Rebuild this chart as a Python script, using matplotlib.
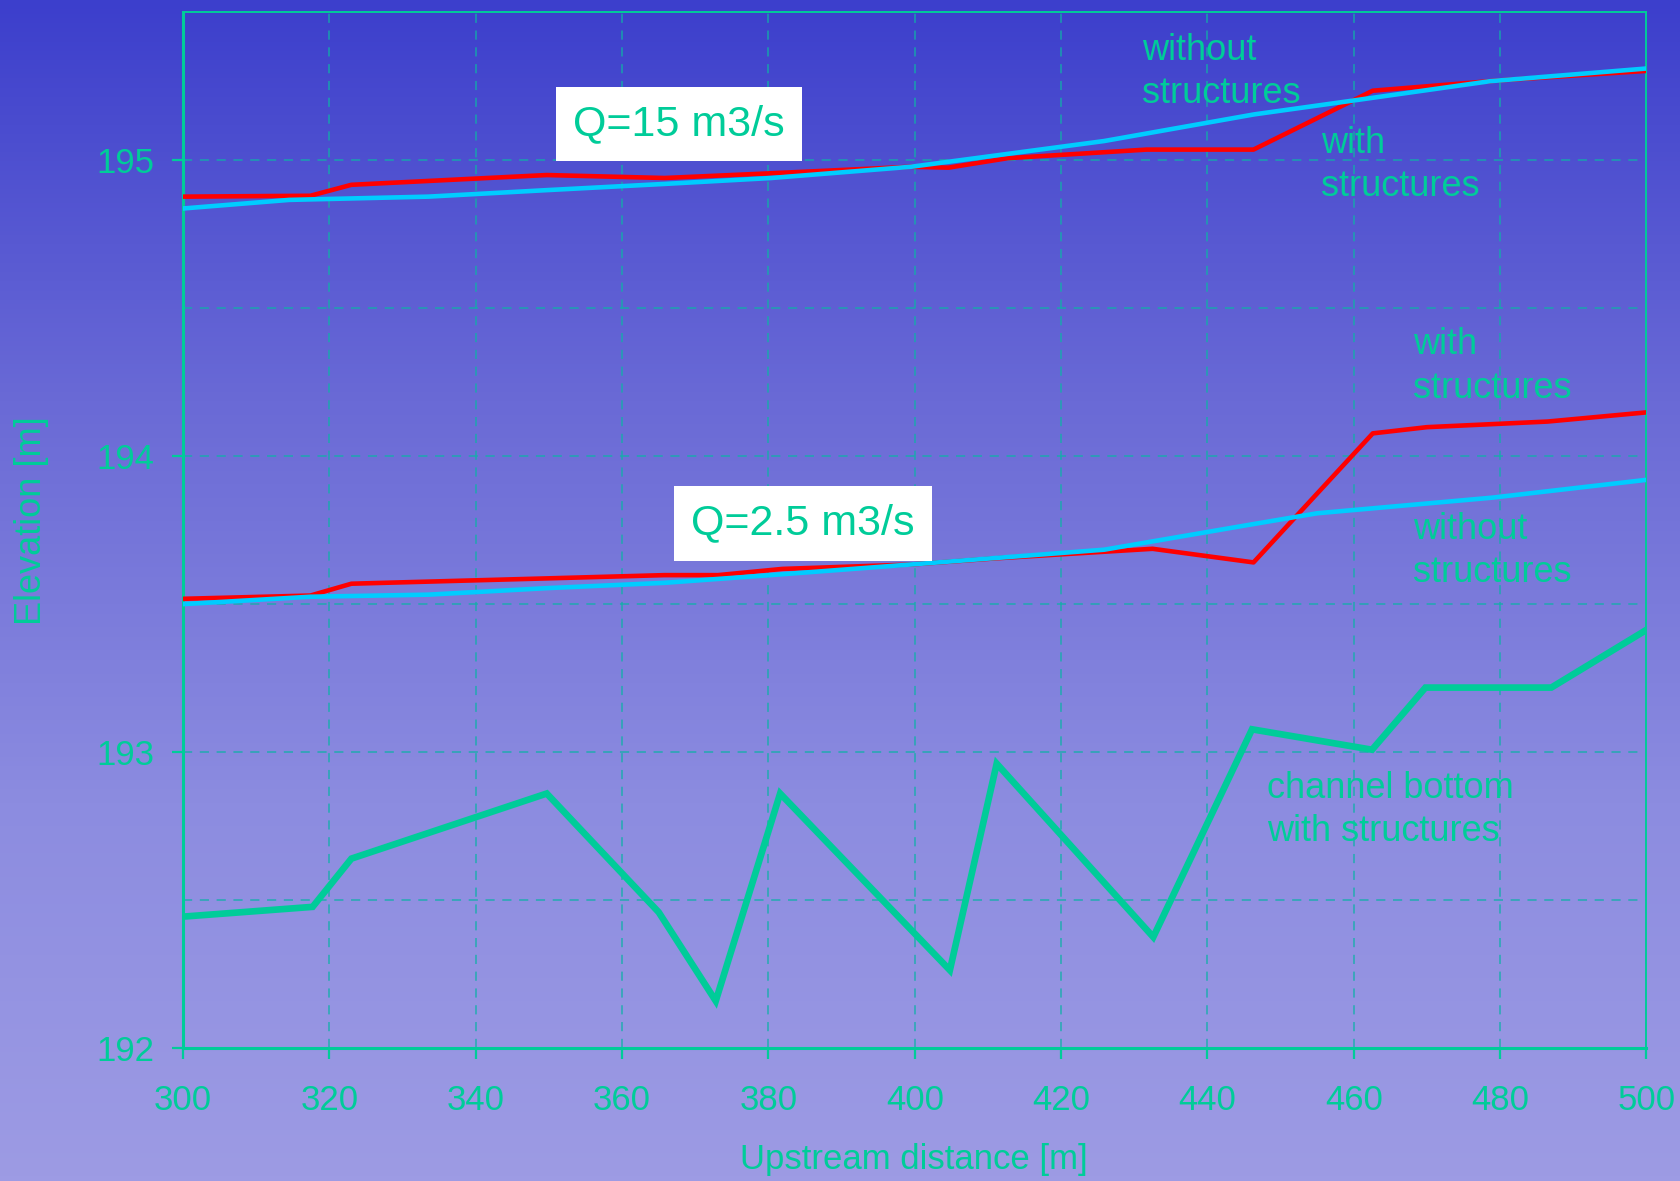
import numpy as np
import matplotlib
matplotlib.use("Agg")
import matplotlib.pyplot as plt
from matplotlib.colors import LinearSegmentedColormap
from matplotlib.ticker import MultipleLocator

plt.rcParams['font.family'] = ['Liberation Sans', 'DejaVu Sans']

# upstream distance [m] and elevations [m]
x_hi_with = [300, 317.4, 323, 333.5, 349.7, 365.8, 380.4, 399.5, 404.6, 412.7, 431.7, 446.3, 462.6, 480, 500]
y_hi_with = [194.877, 194.88, 194.917, 194.93, 194.95, 194.94, 194.956, 194.978, 194.975, 195.007, 195.036, 195.036, 195.235, 195.27, 195.302]

x_hi_without = [300, 314.5, 333.5, 349.7, 365.8, 380.4, 399.5, 425.9, 446.4, 460, 478.6, 500]
y_hi_without = [194.837, 194.866, 194.877, 194.899, 194.92, 194.94, 194.978, 195.065, 195.155, 195.202, 195.267, 195.31]

x_lo_with = [300, 317.4, 323, 349.7, 365.8, 373.1, 381.9, 399.5, 411.2, 432.5, 446.3, 462.6, 470, 486.5, 500]
y_lo_with = [193.518, 193.529, 193.569, 193.587, 193.598, 193.598, 193.619, 193.634, 193.655, 193.687, 193.641, 194.077, 194.098, 194.117, 194.148]

x_lo_without = [300, 317.4, 333.5, 349.7, 365.8, 381.9, 399.5, 425.9, 446.4, 455, 479, 500]
y_lo_without = [193.5, 193.525, 193.532, 193.554, 193.572, 193.601, 193.634, 193.684, 193.771, 193.807, 193.86, 193.92]

x_bottom = [300, 317.7, 323, 349.7, 365, 372.8, 381.6, 404.8, 411.2, 432.6, 446.1, 462.5, 469.8, 487, 500]
y_bottom = [192.444, 192.477, 192.64, 192.86, 192.459, 192.159, 192.86, 192.263, 192.961, 192.375, 193.077, 193.008, 193.218, 193.218, 193.413]

teal = '#00CC99'

fig = plt.figure(figsize=(16.8, 11.81), dpi=100)

# vertical gradient behind everything
bg = fig.add_axes([0, 0, 1, 1], zorder=-10)
cmap = LinearSegmentedColormap.from_list(
    'bg', [(0, '#3C3FCC'), (0.34, '#6A6AD6'), (0.68, '#8C8CE0'), (1, '#9D9BE4')])
bg.imshow(np.linspace(0, 1, 256).reshape(-1, 1), aspect='auto', cmap=cmap,
          extent=[0, 1, 0, 1], origin='upper')
bg.set_axis_off()

ax = fig.add_axes([0.109, 0.1126, 0.871, 0.877])
ax.patch.set_alpha(0)

ax.plot(x_bottom, y_bottom, color=teal, lw=4.8, solid_joinstyle='miter', zorder=3)
ax.plot(x_hi_with, y_hi_with, color='#FF0000', lw=3.3, zorder=3)
ax.plot(x_hi_without, y_hi_without, color='#00CCFF', lw=3.3, zorder=4)
ax.plot(x_lo_with, y_lo_with, color='#FF0000', lw=3.3, zorder=3)
ax.plot(x_lo_without, y_lo_without, color='#00CCFF', lw=3.3, zorder=4)

ax.set_xlim(300, 500)
ax.set_ylim(192, 195.5)
ax.xaxis.set_major_locator(MultipleLocator(20))
ax.yaxis.set_major_locator(MultipleLocator(1))
ax.yaxis.set_minor_locator(MultipleLocator(0.5))
ax.tick_params(axis='both', which='major', direction='out', length=8, width=1.6,
               color=teal, labelcolor=teal, labelsize=25)
ax.tick_params(axis='x', pad=18)
ax.tick_params(axis='y', pad=13)
ax.tick_params(which='minor', length=0)
ax.grid(True, which='both', color='#10B0A8', lw=1.1, ls=(0, (6, 5)), alpha=0.85)
for side in ['left', 'bottom']:
    ax.spines[side].set_color(teal)
    ax.spines[side].set_linewidth(2.2)
for side in ['top', 'right']:
    ax.spines[side].set_color(teal)
    ax.spines[side].set_linewidth(1.4)

# axis titles placed in figure coordinates
fig.text(0.544, 0.0186, 'Upstream distance [m]', color=teal, fontsize=25,
         ha='center', va='center')
fig.text(0.019, 0.559, 'Elevation [m]', color=teal, fontsize=26,
         ha='center', va='center', rotation=90)

box = dict(facecolor='white', edgecolor='none', boxstyle='square,pad=0.4')
ax.text(367.8, 195.123, 'Q=15 m3/s', color=teal, fontsize=31, ha='center', va='center', bbox=box, zorder=5)
ax.text(384.7, 193.773, 'Q=2.5 m3/s', color=teal, fontsize=31, ha='center', va='center', bbox=box, zorder=5)

lbl = dict(color=teal, fontsize=26, ha='left', va='center', linespacing=1.32, zorder=5)
ax.text(431.0, 195.298, 'without\nstructures', **lbl)
ax.text(455.5, 194.984, 'with\nstructures', **lbl)
ax.text(468.1, 194.302, 'with\nstructures', **lbl)
ax.text(468.1, 193.679, 'without\nstructures', **lbl)
ax.text(448.1, 192.804, 'channel bottom\nwith structures', **lbl)

fig.savefig('out.png', dpi=100)
